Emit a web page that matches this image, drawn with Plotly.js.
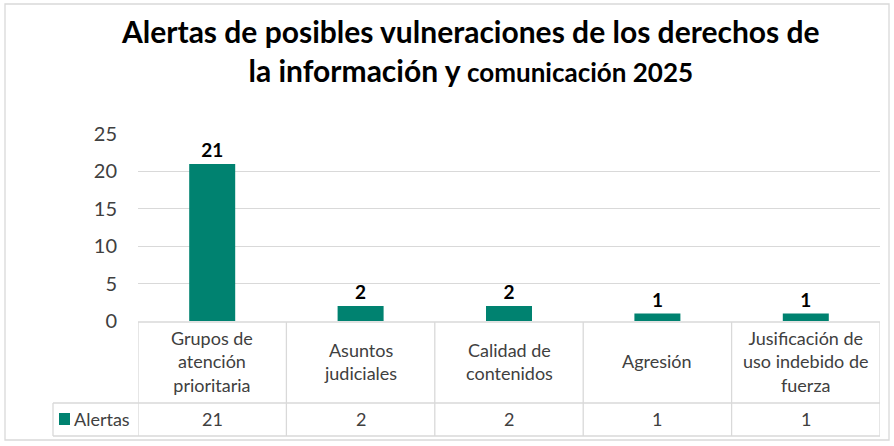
<!DOCTYPE html>
<html><head><meta charset="utf-8">
<script src="https://cdn.plot.ly/plotly-3.0.1.min.js"></script>
<style>html,body{margin:0;padding:0;background:#fff}#c{width:894px;height:446px}</style>
</head><body><div id="c"></div>
<script>
const categories = ["Grupos de<br>atención<br>prioritaria","Asuntos<br>judiciales","Calidad de<br>contenidos","Agresión","Jusificación de<br>uso indebido de<br>fuerza"];
const seriesName = "Alertas";
const values = [21, 2, 2, 1, 1];
const yTicks = [0, 5, 10, 15, 20, 25];
const titleText = "<b>Alertas de posibles vulneraciones de los derechos de<br>la información y <span style='font-size:26px'>comunicación 2025</span></b>";

const FONT = "Lato, 'Open Sans', sans-serif";
const W = 894, H = 446, L = 138, R = 14, T = 134, B = 125;
const pw = W - L - R, ph = H - T - B;
const py = p => (H - B - p) / ph;      // pixel y -> paper y
const px = p => (p - L) / pw;          // pixel x -> paper x
const idx = categories.map((_, i) => i);
const grid = '#d9d9d9';

const shapes = [];
const yTop = py(322), yMid = py(403), yBot = py(436);
shapes.push({type:'line', xref:'paper', yref:'paper', x0:0, x1:1, y0:yTop, y1:yTop, line:{color:grid, width:1.3}});
shapes.push({type:'line', xref:'paper', yref:'paper', x0:px(53), x1:1, y0:yMid, y1:yMid, line:{color:grid, width:1.3}});
shapes.push({type:'line', xref:'paper', yref:'paper', x0:px(53), x1:1, y0:yBot, y1:yBot, line:{color:grid, width:1.3}});
shapes.push({type:'line', xref:'paper', yref:'paper', x0:px(53), x1:px(53), y0:yMid, y1:yBot, line:{color:grid, width:1.3}});
for (let i = 0; i <= categories.length; i++) {
  shapes.push({type:'line', xref:'x', yref:'paper', x0:i-0.5, x1:i-0.5, y0:yTop, y1:yBot, line:{color:grid, width:1.3}});
}
shapes.push({type:'rect', xref:'paper', yref:'paper', x0:px(59), x1:px(70), y0:py(425), y1:py(413), fillcolor:'#008270', line:{width:0}});
shapes.push({type:'rect', xref:'paper', yref:'paper', x0:px(5), x1:px(889), y0:py(440), y1:py(4), line:{color:'#d9d9d9', width:1.3}});

const annotations = [];
categories.forEach((c, i) => {
  annotations.push({xref:'x', yref:'paper', x:i, y:py(361), text:c, showarrow:false, xanchor:'center', yanchor:'middle',
    font:{family:FONT, size:18, color:'#404040'}});
  annotations.push({xref:'x', yref:'paper', x:i, y:py(419), text:String(values[i]), showarrow:false, xanchor:'center', yanchor:'middle',
    font:{family:FONT, size:18, color:'#404040'}});
});
annotations.push({xref:'paper', yref:'paper', x:px(72), y:py(419), text:seriesName, showarrow:false, xanchor:'left', yanchor:'middle',
  font:{family:FONT, size:18, color:'#404040'}});
annotations.push({xref:'paper', yref:'paper', x:px(470), y:py(50), text:titleText, showarrow:false, xanchor:'center', yanchor:'middle',
  font:{family:FONT, size:30, color:'#000'}});

const trace = {
  type:'bar', x:idx, y:values, name:seriesName,
  marker:{color:'#008270'}, width:0.31,
  text:values.map(String), textposition:'outside', cliponaxis:false,
  textfont:{family:FONT, size:19, color:'#000', weight:'bold'},
  hoverinfo:'none'
};

const layout = {
  width:W, height:H, margin:{l:L, r:R, t:T, b:B},
  paper_bgcolor:'#fff', plot_bgcolor:'#fff', showlegend:false,
  font:{family:FONT},
  xaxis:{range:[-0.5, categories.length-0.5], showticklabels:false, showgrid:false, zeroline:false, showline:false, ticks:'', fixedrange:true},
  yaxis:{range:[0, 25], tickvals:yTicks, showgrid:true, gridcolor:grid, gridwidth:1.3, zeroline:false, showline:false,
    ticks:'', ticklabelstandoff:20, tickfont:{family:FONT, size:20, color:'#404040'}, fixedrange:true},
  shapes:shapes, annotations:annotations
};
Plotly.newPlot('c', [trace], layout, {displayModeBar:false, staticPlot:true});
</script></body></html>
